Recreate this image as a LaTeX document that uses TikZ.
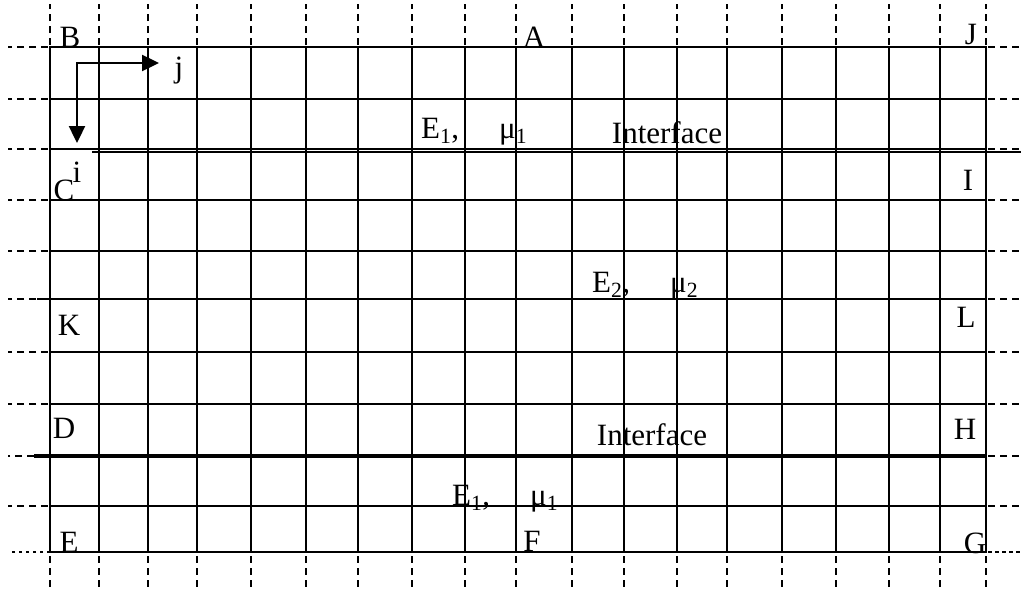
\documentclass[tikz,border=0pt]{standalone}
\usepackage{fontspec}
\setmainfont{Liberation Serif}
\usetikzlibrary{arrows.meta}
\begin{document}
\begin{tikzpicture}[x=1pt,y=-1pt,
  gridline/.style={line width=2.6pt},
  tickline/.style={line width=1.5pt, dash pattern=on 7pt off 5pt},
  finetick/.style={line width=1.3pt, dash pattern=on 3.5pt off 3.5pt},
  iface/.style={line width=3.4pt},
  lbl/.style={inner sep=0pt, anchor=base, font=\fontsize{31}{31}\selectfont},
  lblw/.style={lbl, anchor=base west},
  arr/.style={line width=2.4pt, line join=miter, {Triangle[length=17pt,width=16pt]}-{Triangle[length=17pt,width=16pt]}}]
\useasboundingbox (0,0) rectangle (1021,589);
% dashed ticks
\foreach \x in {50,99,148,197,251,306,358,412,465,516,572,624,677,727,782,836,889,940,986} {
  \draw[tickline] (\x,45) -- (\x,4);
  \draw[tickline] (\x,556) -- (\x,589);
}
\foreach \y in {47,99,149,200,251,299,352,404,506} {
  \draw[tickline] (48,\y) -- (8,\y);
  \draw[tickline] (988,\y) -- (1021,\y);
}
\draw[tickline] (34,456) -- (8,456);
\draw[tickline] (988,456) -- (1021,456);
\draw[finetick] (50,552) -- (8,552);
\draw[finetick] (988,552) -- (1021,552);
% grid
\foreach \x in {50,99,148,197,251,306,358,412,465,516,572,624,677,727,782,836,889,940,986}
  \draw[gridline] (\x,47) -- (\x,552);
\foreach \y in {47,99,149,200,251,299,352,404,506,552}
  \draw[gridline] (49,\y) -- (987,\y);
\draw[gridline] (37,299) -- (50,299);
% interfaces
\draw[line width=2.4pt] (92,152) -- (1021,152);
\draw[iface] (34,456) -- (987,456);
% axes arrows
\coordinate (o) at (77,63);
\coordinate (jt) at (159,63);
\coordinate (it) at (77,143);
\draw[arr] (jt) -- (o) -- (it);
% labels
\node[lbl] (B) at (70,47) {B};
\node[lbl] (A) at (534,47) {A};
\node[lbl] (J) at (971,44) {J};
\node[lbl] (C) at (64,200) {C};
\node[lbl] (ilab) at (77,182) {i};
\node[lbl] (jlab) at (179,77) {j};
\node[lbl] (I) at (968,190) {I};
\node[lbl] (K) at (69,335) {K};
\node[lbl] (L) at (966,327) {L};
\node[lbl] (D) at (64,438) {D};
\node[lbl] (H) at (965,439) {H};
\node[lbl] (E) at (69,552) {E};
\node[lbl] (F) at (532,551) {F};
\node[lbl] (G) at (975,553) {G};
\node[lbl] (if1) at (667,143) {Interface};
\node[lbl] (if2) at (652,445) {Interface};
\node[lblw] (e1a) at (421,138) {E\textsubscript{1},};
\node[lblw] (m1a) at (499,138) {μ\textsubscript{1}};
\node[lblw] (e2) at (592,292) {E\textsubscript{2},};
\node[lblw] (m2) at (670,292) {μ\textsubscript{2}};
\node[lblw] (e1b) at (452,505) {E\textsubscript{1},};
\node[lblw] (m1b) at (530,505) {μ\textsubscript{1}};
\end{tikzpicture}
\end{document}
